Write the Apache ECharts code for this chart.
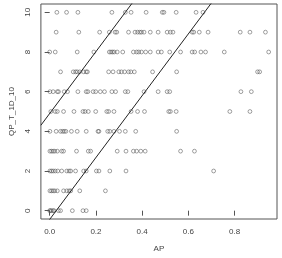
<!DOCTYPE html>
<html>
<head>
<meta charset="utf-8">
<script src="https://cdn.jsdelivr.net/npm/echarts@6/dist/echarts.min.js"></script>
<style>
  html, body { margin: 0; padding: 0; background: #fff; }
  #chart { width: 282px; height: 258px; }
</style>
</head>
<body>
<div id="chart"></div>
<script>
// AP values of the points, one list for each QP_T_1D_10 level
var ap0 = [0.0, 0.003, 0.008, 0.015, 0.019, 0.038, 0.047, 0.098, 0.144, 0.158];
var ap1 = [0.001, 0.008, 0.015, 0.022, 0.033, 0.060, 0.074, 0.084, 0.091, 0.130, 0.241];
var ap2 = [0.001, 0.008, 0.015, 0.024, 0.035, 0.052, 0.074, 0.084, 0.091, 0.112, 0.147, 0.158,
    0.202, 0.213, 0.260, 0.330, 0.709];
var ap3 = [0.001, 0.008, 0.015, 0.022, 0.033, 0.052, 0.060, 0.116, 0.167, 0.177, 0.292, 0.330,
    0.362, 0.376, 0.394, 0.413, 0.566, 0.626];
var ap4 = [0.001, 0.028, 0.047, 0.056, 0.063, 0.070, 0.094, 0.119, 0.158, 0.209, 0.213, 0.251,
    0.260, 0.278, 0.302, 0.327, 0.372, 0.549];
var ap5 = [0.005, 0.024, 0.033, 0.060, 0.105, 0.144, 0.153, 0.167, 0.199, 0.247, 0.255, 0.278,
    0.352, 0.380, 0.410, 0.515, 0.522, 0.547, 0.779, 0.866];
var ap6 = [0.001, 0.015, 0.033, 0.038, 0.063, 0.077, 0.122, 0.158, 0.165, 0.188, 0.199, 0.219,
    0.237, 0.269, 0.285, 0.327, 0.338, 0.408, 0.469, 0.508, 0.519, 0.827, 0.872];
var ap7 = [0.047, 0.102, 0.112, 0.119, 0.130, 0.147, 0.158, 0.163, 0.255, 0.274, 0.299, 0.310,
    0.324, 0.341, 0.351, 0.366, 0.445, 0.549, 0.899, 0.908];
var ap8 = [0.0, 0.024, 0.119, 0.191, 0.258, 0.265, 0.272, 0.279, 0.292, 0.316, 0.362, 0.376,
    0.385, 0.397, 0.415, 0.435, 0.469, 0.483, 0.519, 0.566, 0.616, 0.627, 0.654, 0.674, 0.755, 0.947];
var ap9 = [0.028, 0.126, 0.216, 0.258, 0.283, 0.290, 0.341, 0.369, 0.380, 0.390, 0.397, 0.408,
    0.435, 0.469, 0.508, 0.522, 0.533, 0.616, 0.623, 0.647, 0.685, 0.824, 0.866, 0.933];
var ap10 = [0.031, 0.073, 0.122, 0.269, 0.327, 0.352, 0.417, 0.487, 0.494, 0.547, 0.633, 0.663];

var rows = [ap0, ap1, ap2, ap3, ap4, ap5, ap6, ap7, ap8, ap9, ap10];

// the two straight lines: intercept and slope
var upperLine = [4.9, 15.6];
var lowerLine = [-0.44, 15.6];

var xTicks = [0, 0.2, 0.4, 0.6, 0.8];
var yTicks = [0, 2, 4, 6, 8, 10];

var xMin = -0.038, xMax = 0.983;
var yMin = -0.42, yMax = 10.42;

var points = [];
rows.forEach(function(list, qp) {
    list.forEach(function(ap) { points.push([ap, qp]); });
});

function lineData(l) {
    return [[xMin, l[0] + l[1] * xMin], [xMax, l[0] + l[1] * xMax]];
}

var font = 'Liberation Sans, Arial, sans-serif';
var chart = echarts.init(document.getElementById('chart'));

var lineSeries = function(l) {
    return {
        type: 'line',
        data: lineData(l),
        showSymbol: false,
        clip: true,
        silent: true,
        lineStyle: { color: '#222', width: 1 }
    };
};

chart.setOption({
    animation: false,
    grid: {
        left: 32, right: 5, top: 4, bottom: 32,
        show: true, borderColor: '#555', borderWidth: 1
    },
    xAxis: {
        type: 'value',
        min: xMin, max: xMax,
        name: 'AP',
        nameLocation: 'middle',
        nameGap: 26,
        nameTextStyle: { fontFamily: font, fontSize: 8, color: '#444' },
        axisLine: { show: false },
        splitLine: { show: false },
        axisTick: { show: true, inside: false, length: 5, customValues: xTicks,
            lineStyle: { color: '#555' } },
        axisLabel: { customValues: xTicks, margin: 9, fontFamily: font, fontSize: 8, color: '#444',
            formatter: function(v) { return v.toFixed(1); } }
    },
    yAxis: {
        type: 'value',
        min: yMin, max: yMax,
        name: 'QP_T_1D_10',
        nameLocation: 'middle',
        nameGap: 23,
        nameRotate: 90,
        nameTextStyle: { fontFamily: font, fontSize: 8, color: '#444' },
        axisLine: { show: false },
        splitLine: { show: false },
        axisTick: { show: true, inside: false, length: 5, customValues: yTicks,
            lineStyle: { color: '#555' } },
        axisLabel: { customValues: yTicks, rotate: 90, margin: 9, fontFamily: font, fontSize: 8,
            color: '#444' }
    },
    series: [{
        type: 'scatter',
        data: points,
        symbol: 'circle',
        symbolSize: 3.8,
        silent: true,
        itemStyle: { color: 'rgba(0,0,0,0)', borderColor: '#555', borderWidth: 0.7 }
    }, lineSeries(upperLine), lineSeries(lowerLine)]
});
</script>
</body>
</html>
